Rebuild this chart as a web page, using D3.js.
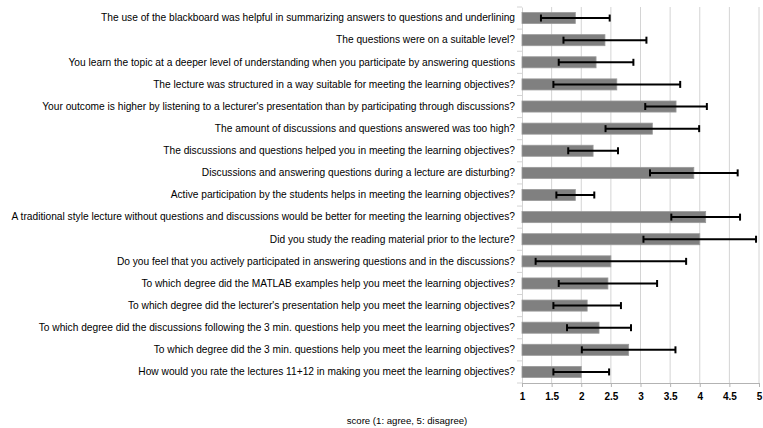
<!DOCTYPE html>
<html><head><meta charset="utf-8">
<script src="https://cdn.jsdelivr.net/npm/d3@7"></script>
<style>body{margin:0;background:#fff}svg{display:block}text{font-family:"Liberation Sans",Arial,sans-serif;fill:#000}</style>
</head><body><svg id="c" width="763" height="428"></svg>
<script>
const categories = [
"The use of the blackboard was helpful in summarizing answers to questions and underlining",
"The questions were on a suitable level?",
"You learn the topic at a deeper level of understanding when you participate by answering questions",
"The lecture was structured in a way suitable for meeting the learning objectives?",
"Your outcome is higher by listening to a lecturer's presentation than by participating through discussions?",
"The amount of discussions and questions answered was too high?",
"The discussions and questions helped you in meeting the learning objectives?",
"Discussions and answering questions during a lecture are disturbing?",
"Active participation by the students helps in meeting the learning objectives?",
"A traditional style lecture without questions and discussions would be better for meeting the learning objectives?",
"Did you study the reading material prior to the lecture?",
"Do you feel that you actively participated in answering questions and in the discussions?",
"To which degree did the MATLAB examples help you meet the learning objectives?",
"To which degree did the lecturer's presentation help you meet the learning objectives?",
"To which degree did the discussions following the 3 min. questions help you meet the learning objectives?",
"To which degree did the 3 min. questions help you meet the learning objectives?",
"How would you rate the lectures 11+12 in making you meet the learning objectives?"
];
const means = [1.9, 2.4, 2.25, 2.6, 3.6, 3.2, 2.2, 3.9, 1.9, 4.1, 4.0, 2.5, 2.45, 2.1, 2.3, 2.8, 2.0];
const sds   = [0.58, 0.7, 0.63, 1.07, 0.52, 0.79, 0.42, 0.74, 0.32, 0.58, 0.95, 1.27, 0.83, 0.57, 0.54, 0.79, 0.47];
const tickValues = [1, 1.5, 2, 2.5, 3, 3.5, 4, 4.5, 5];
const axisTitle = "score (1: agree, 5: disagree)";

const data = categories.map((c, i) => ({c, m: means[i], s: sds[i]}));
const svg = d3.select("#c");
const x = d3.scaleLinear().domain([1, 5]).range([522, 759]);
const y = d3.scaleBand().domain(categories).range([7, 383]).paddingInner(0.5).paddingOuter(0.25);

// grid
svg.append("g").selectAll("line").data(tickValues.slice(1)).join("line")
  .attr("x1", d => x(d)).attr("x2", d => x(d)).attr("y1", 7).attr("y2", 383)
  .attr("stroke", "#d4d4d4").attr("stroke-width", 1);

// y axis
const ya = svg.append("g").attr("transform", `translate(${x(1)},0)`)
  .call(d3.axisLeft(y).tickSize(0).tickPadding(7));
ya.select(".domain").attr("stroke", "#d4d4d4");
ya.selectAll("text").style("font-size", "10.2px");
// separator ticks
svg.append("g").selectAll("line").data(d3.range(categories.length + 1)).join("line")
  .attr("x1", x(1) - 5).attr("x2", x(1))
  .attr("y1", i => 7 + i * (376 / categories.length)).attr("y2", i => 7 + i * (376 / categories.length))
  .attr("stroke", "#d4d4d4");

// bars
svg.append("g").selectAll("rect").data(data).join("rect")
  .attr("x", x(1)).attr("y", d => y(d.c))
  .attr("width", d => x(d.m) - x(1)).attr("height", y.bandwidth())
  .attr("fill", "#808080").attr("stroke", "#9a9a9a").attr("stroke-width", 0.8);

// error bars
const eb = svg.append("g").selectAll("g").data(data).join("g")
  .attr("transform", d => `translate(0,${y(d.c) + y.bandwidth() / 2})`);
eb.append("line").attr("x1", d => x(d.m - d.s)).attr("x2", d => x(d.m + d.s))
  .attr("stroke", "#000").attr("stroke-width", 2);
eb.append("line").attr("x1", d => x(d.m - d.s)).attr("x2", d => x(d.m - d.s))
  .attr("y1", -3.5).attr("y2", 3.5).attr("stroke", "#000").attr("stroke-width", 2);
eb.append("line").attr("x1", d => x(d.m + d.s)).attr("x2", d => x(d.m + d.s))
  .attr("y1", -3.5).attr("y2", 3.5).attr("stroke", "#000").attr("stroke-width", 2);

// x axis
const xa = svg.append("g").attr("transform", "translate(0,383)")
  .call(d3.axisBottom(x).tickValues(tickValues).tickFormat(d3.format("")).tickSize(4).tickPadding(6));
xa.select(".domain").attr("stroke", "#b3b3b3");
xa.selectAll(".tick line").attr("stroke", "#b3b3b3");
xa.selectAll("text").style("font-size", "10px").style("font-weight", "bold");

svg.append("text").attr("x", 407).attr("y", 424).attr("text-anchor", "middle")
  .style("font-size", "9.6px").text(axisTitle);
</script></body></html>
